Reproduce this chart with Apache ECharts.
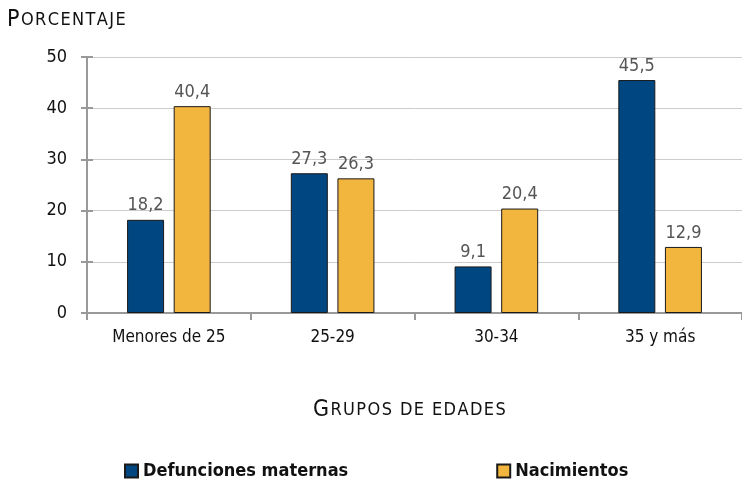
<!DOCTYPE html>
<html lang="es">
<head>
    <meta charset="UTF-8">
    <title>Defunciones maternas y nacimientos por edad</title>
    <style>
        html, body { margin: 0; padding: 0; background: #fff; }
        #chart { width: 742px; height: 488px; }
    </style>
</head>
<body>
    <div id="chart"></div>
    <script src="https://cdn.jsdelivr.net/npm/echarts@6/dist/echarts.min.js"></script>
    <script>
        // datos
        const categorias = ['Menores de 25', '25-29', '30-34', '35 y más'];
        const defunciones = [18.2, 27.3, 9.1, 45.5];
        const nacimientos = [40.4, 26.3, 20.4, 12.9];
        const yTicks = [0, 10, 20, 30, 40, 50];

        const fuente = '"Liberation Sans Narrow", "DejaVu Sans Condensed", "Roboto", sans-serif';
        const coma = v => String(v).replace('.', ',');

        const myChart = echarts.init(document.getElementById('chart'));

        const etiqueta = {
            show: true,
            position: 'top',
            distance: 5,
            color: '#555',
            fontSize: 18,
            fontFamily: fuente,
            formatter: p => coma(p.value)
        };

        // versalitas simuladas: primera letra grande, resto en mayusculas pequeñas con espaciado
        const estiloVersalitas = {
            a: { fontSize: 23, fontFamily: fuente, fill: '#111', padding: [0, 1.4, 0, 0] },
            b: { fontSize: 18, fontFamily: fuente, fill: '#111', padding: [0, 1.4, 0, 0] }
        };
        function versalitas(txt) {
            let s = '{a|' + txt[0] + '}';
            for (const c of txt.slice(1).toUpperCase()) {
                s += '{b|' + c + '}';
            }
            return s;
        }

        const option = {
            backgroundColor: '#fff',
            animation: false,
            textStyle: { fontFamily: fuente },
            grid: { left: 87, right: -1, top: 57, bottom: 175 },
            graphic: [{
                type: 'text',
                left: 7,
                top: 9,
                style: { text: versalitas('Porcentaje'), rich: estiloVersalitas }
            }, {
                type: 'text',
                left: 313,
                top: 399,
                style: { text: versalitas('Grupos de edades'), rich: estiloVersalitas }
            }],
            legend: {
                bottom: 3,
                left: 119,
                itemWidth: 13,
                itemHeight: 13,
                itemGap: 148,
                icon: 'rect',
                textStyle: { fontSize: 18, fontWeight: 'bold', color: '#111', fontFamily: fuente },
                data: ['Defunciones maternas', 'Nacimientos']
            },
            xAxis: {
                type: 'category',
                data: categorias,
                axisLine: { lineStyle: { color: '#999', width: 2 } },
                axisTick: { show: true, length: 7, lineStyle: { color: '#999', width: 2 } },
                axisLabel: { color: '#111', fontSize: 17, margin: 16 }
            },
            yAxis: [{
                type: 'value',
                min: 0,
                max: 50,
                interval: 10,
                axisLine: { show: true, lineStyle: { color: '#999', width: 2 } },
                axisTick: { show: true, length: 6, lineStyle: { color: '#999', width: 2 } },
                splitLine: { lineStyle: { color: '#ccc', width: 1 } },
                axisLabel: {
                    color: '#111',
                    fontSize: 18,
                    margin: 20,
                    formatter: v => yTicks.includes(v) ? String(v) : ''
                }
            }, {
                type: 'value',
                position: 'left',
                min: 0,
                max: 50,
                interval: 10,
                axisLine: { show: false },
                axisTick: { show: true, inside: true, length: 6, lineStyle: { color: '#999', width: 2 } },
                splitLine: { show: false },
                axisLabel: { show: false }
            }],
            series: [{
                name: 'Defunciones maternas',
                type: 'bar',
                data: defunciones,
                barWidth: 37,
                barGap: '26%',
                itemStyle: { color: '#004680', borderColor: '#1a1a1a', borderWidth: 1 },
                label: etiqueta
            }, {
                name: 'Nacimientos',
                type: 'bar',
                data: nacimientos,
                barWidth: 37,
                itemStyle: { color: '#f2b53d', borderColor: '#1a1a1a', borderWidth: 1 },
                label: etiqueta
            }]
        };

        myChart.setOption(option);
    </script>
</body>
</html>
